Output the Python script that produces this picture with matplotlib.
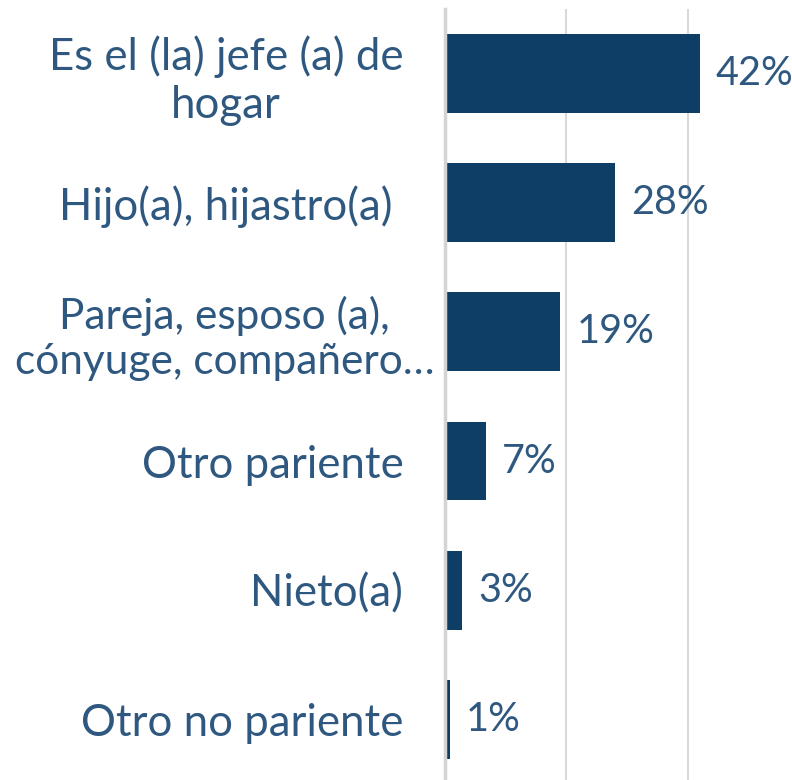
import matplotlib
matplotlib.use("Agg")
import matplotlib.pyplot as plt
from matplotlib.transforms import ScaledTranslation

categories = ["Es el (la) jefe (a) de\nhogar", "Hijo(a), hijastro(a) ",
              "Pareja, esposo (a),\ncónyuge, compañero…", "Otro pariente",
              "Nieto(a)", "Otro no pariente"]
values = [0.42, 0.28, 0.19, 0.067, 0.028, 0.008]
xticks = [0.0, 0.2, 0.4]

BAR = "#0e3d66"
TXT = "#2f5880"
FONT = "Lato"
FS = 31.5

fig = plt.figure(figsize=(7.92, 7.80), dpi=100)
top_px, bot_px = 8.9, 784.0
ax = fig.add_axes([445/792, (780 - bot_px)/780, 1 - 445/792, (bot_px - top_px)/780])

y = list(range(len(categories)))
ax.barh(y, values, height=0.61, color=BAR, zorder=3)
ax.set_ylim(len(categories) - 0.5, -0.5)
ax.set_xlim(0, 0.572)

for yi, v in zip(y, values):
    ax.text(v, yi, f"{v:.0%}", transform=ax.transData + ScaledTranslation(16/100, 0, fig.dpi_scale_trans),
            ha="left", va="center", fontsize=28.5, color=TXT, family=FONT)

ax.set_xticks(xticks)
ax.xaxis.grid(True, color="#d9d9d9", linewidth=1.5, zorder=0)
ax.tick_params(axis="x", length=0, labelbottom=False)
ax.tick_params(axis="y", length=0, pad=30)
ax.set_yticks(y)
ax.set_yticklabels(categories, fontsize=FS, color=TXT, family=FONT)
for i, lab in enumerate(ax.get_yticklabels()):
    lab.set_multialignment("center")
    if i == 2:
        lab.set_fontsize(30.5)
        lab.set_transform(lab.get_transform() + ScaledTranslation(31/100, 0, fig.dpi_scale_trans))
for s in ["top", "right", "bottom"]:
    ax.spines[s].set_visible(False)
ax.spines["left"].set_color("#d4d4d4")
ax.spines["left"].set_linewidth(2.5)
ax.spines["left"].set_zorder(5)

fig.savefig("out.png", dpi=100)
